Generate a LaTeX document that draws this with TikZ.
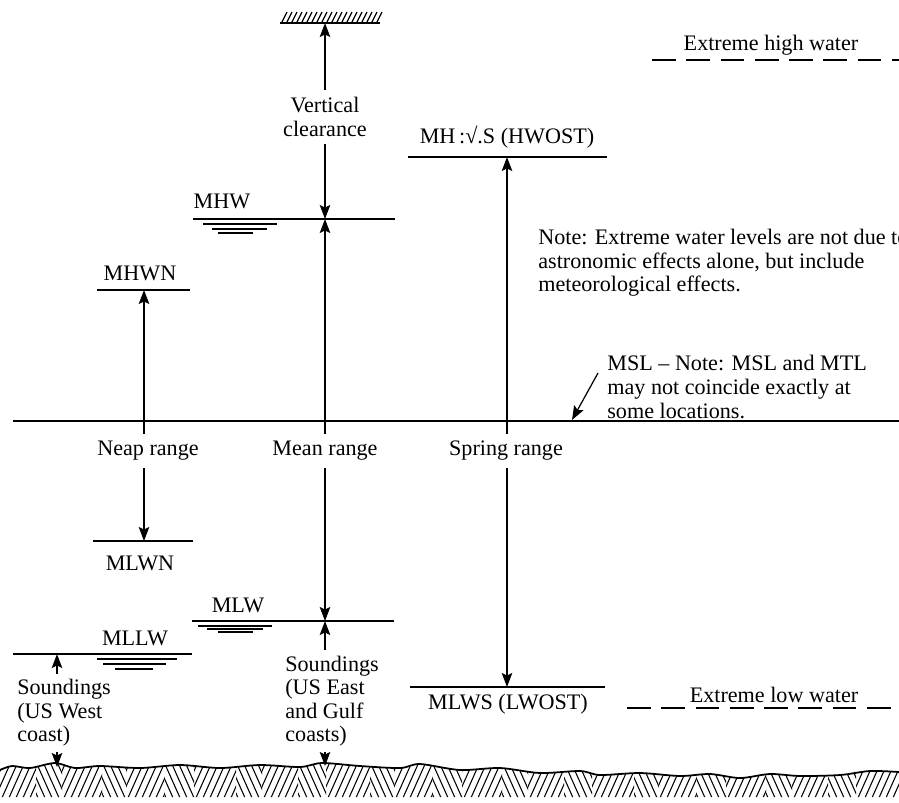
\documentclass[tikz,border=0pt]{standalone}
\usepackage{fontspec}
\setmainfont{Liberation Serif}
\usetikzlibrary{arrows.meta,positioning}
\tikzset{
  lvl/.style={line width=1pt},
  thin/.style={line width=0.7pt},
  dim/.style={-{Stealth[length=2.8mm,width=2.1mm,inset=0.5mm]}, line width=0.7pt},
  lbl/.style={font=\fontsize{12.6}{13.4}\selectfont, inner sep=0pt},
  rng/.style={lbl, align=center, inner ysep=4pt},
  txt/.style={lbl, align=left, anchor=west, inner ysep=3pt},
  extreme/.style={line width=1pt, dash pattern=on 13.5pt off 6pt}
}

\begin{document}
\begin{tikzpicture}[x=0.02cm, y=-0.02cm]
  \useasboundingbox (0,0) rectangle (899,802);

  % points where the dimension arrows meet a level
  \coordinate (soffit) at (325,23);
  \coordinate (mhw) at (325,219);
  \coordinate (mhs) at (507,157);
  \coordinate (mhwn) at (144,290);
  \coordinate (mlwn) at (144,541);
  \coordinate (mlw) at (325,621);
  \coordinate (mllw) at (57,654);
  \coordinate (mlws) at (507,687);
  \coordinate (bedw) at (57,767);
  \coordinate (bede) at (325,766);
  \coordinate (mslpt) at (572,420);
  \coordinate (msltail) at (598,373);

  % bridge soffit
  \draw[lvl] (280,23) -- (380,23);
  \foreach \h in {282,287,...,377} \draw[thin] (\h,22) -- ++(5,-10);

  % tide levels
  \draw[lvl] (193,219) -- (395,219);
  \draw[lvl] (408,157) -- (607,157);
  \draw[lvl] (97,290) -- (190,290);
  \draw[lvl] (13,421) -- (899,421);
  \draw[lvl] (93,541) -- (193,541);
  \draw[lvl] (192,621) -- (394,621);
  \draw[lvl] (13,654) -- (192,654);
  \draw[lvl] (410,687) -- (605,687);

  % water marks under the levels
  \draw[thin] (203,224) -- (277,224) (212,229) -- (267,229) (218,233) -- (253,233);
  \draw[thin] (198,626) -- (272,626) (207,629) -- (263,629) (218,632) -- (253,632);
  \draw[thin] (97,659) -- (177,659) (103,664) -- (166,664) (115,669) -- (153,669);
  \draw[line width=1.6pt] (127,669) -- (138,669);

  % extreme levels
  \draw[extreme] (652,60) -- (899,60);
  \draw[extreme] (627,708) -- (899,708);

  % labels
  \node[lbl] (mhwlbl) at (222,201) {MHW};
  \node[lbl] (mhslbl) at (507,137) {MH\,:√.S (HWOST)};
  \node[lbl] (mhwnlbl) at (140,273) {MHWN};
  \node[lbl] (mlwnlbl) at (140,563) {MLWN};
  \node[lbl] (mlwlbl) at (238,605) {MLW};
  \node[lbl] (mllwlbl) at (135,638) {MLLW};
  \node[lbl] (mlwslbl) at (508,704) {MLWS (LWOST)};
  \node[lbl] (ehw) at (771,45) {Extreme high water};
  \node[lbl] (elw) at (774,695) {Extreme low water};
  \node[txt] (note) at (538,263) {Note: Extreme water levels are not due to\\astronomic effects alone, but include\\meteorological effects.};
  \node[txt] (mslnote) at (607,387) {MSL -- Note: MSL and MTL\\may not coincide exactly at\\some locations.};

  % ranges
  \node[rng] (vc) at (325,117) {Vertical\\clearance};
  \node[rng] (neap) at (148,451) {Neap range};
  \node[rng] (mean) at (325,451) {Mean range};
  \node[rng] (spring) at (506,451) {Spring range};
  \node[txt] (west) at (17,713) {Soundings\\(US West\\coast)};
  \node[txt] (east) at (285,701) {Soundings\\(US East\\and Gulf\\coasts)};

  \draw[dim] (vc) -- (soffit);
  \draw[dim] (vc) -- (mhw);
  \draw[dim] (mean.north -| mhw) -- (mhw);
  \draw[dim] (mean.south -| mlw) -- (mlw);
  \draw[dim] (neap.north -| mhwn) -- (mhwn);
  \draw[dim] (neap.south -| mlwn) -- (mlwn);
  \draw[dim] (spring.north -| mhs) -- (mhs);
  \draw[dim] (spring.south -| mlws) -- (mlws);
  \draw[dim] (west.north -| mllw) -- (mllw);
  \draw[dim] (west.south -| bedw) -- (bedw);
  \draw[dim] (east.north -| mlw) -- (mlw);
  \draw[dim] (east.south -| bede) -- (bede);
  \draw[dim] (msltail) -- (mslpt);

  % sea bed
  \def\bedline{(0,770) (12,766) (30,768) (55,763) (75,768) (100,766)
    (140,768) (180,765) (220,768) (260,765) (300,767) (322,763) (360,766)
    (400,768) (420,764) (460,770) (500,768) (540,773) (580,771) (600,775)
    (640,773) (680,776) (710,774) (740,778) (770,774) (800,776) (840,775)
    (870,771) (899,772)}
  \begin{scope}
    \clip plot[smooth] coordinates \bedline -- (899,797) -- (0,797) -- cycle;
    \foreach \g/\w [count=\i] in {0/36,36/26,62/40,102/24,126/38,164/30,194/42,
        236/26,262/36,298/28,326/44,370/24,394/38,432/30,462/40,502/26,528/36,
        564/28,592/42,634/24,658/38,696/30,726/40,766/26,792/36,828/28,856/44} {
      \begin{scope}
        \clip (\g,740) rectangle ++(\w,62);
        \ifodd\i
          \foreach \k in {-20,-13,...,50} \draw[line width=0.6pt] (\g+\k,800) -- ++(17,-38);
        \else
          \foreach \k in {-4,3,...,66} \draw[line width=0.6pt] (\g+\k,800) -- ++(-17,-38);
        \fi
      \end{scope}
    }
  \end{scope}
  \draw[lvl] plot[smooth] coordinates \bedline;
\end{tikzpicture}
\end{document}
